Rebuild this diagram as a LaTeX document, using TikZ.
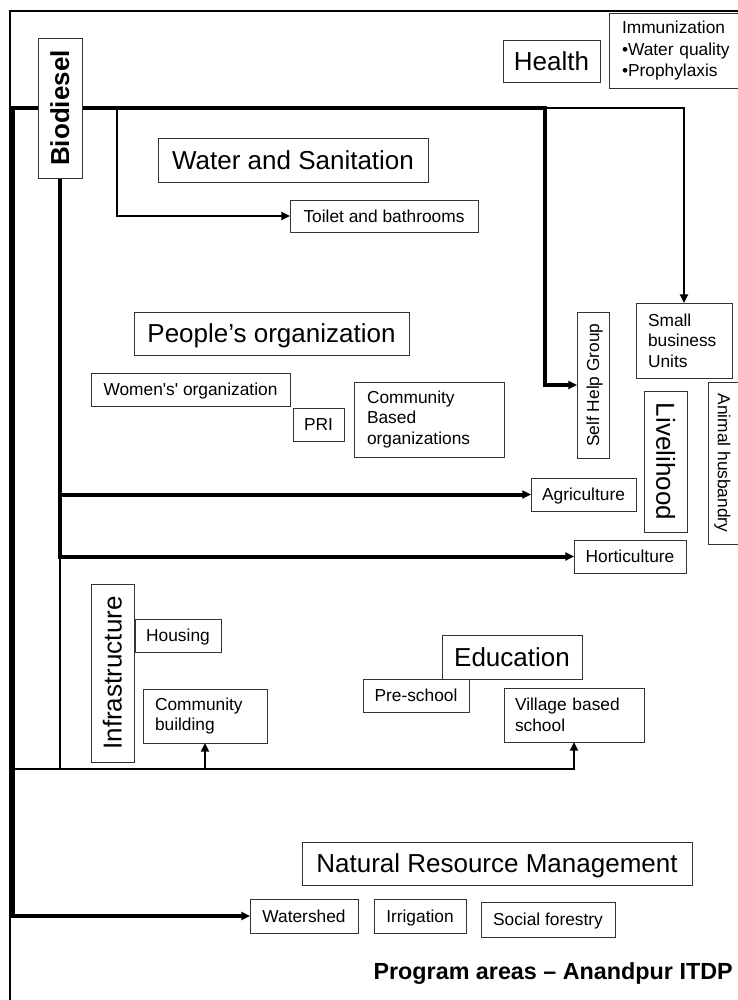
\documentclass[tikz,border=0pt]{standalone}
\usepackage{fontspec}
\usepackage{graphicx}
\setmainfont{Liberation Sans}
\usetikzlibrary{arrows.meta,backgrounds}

% rotated label with a fixed line height, so it is centred like upright text
\newcommand\turnedtext[2]{\rotatebox{#1}{\smash{#2}\rule[-0.2em]{0pt}{1.1em}}}

\begin{document}
\begin{tikzpicture}[x=0.75pt,y=-0.75pt,
  box/.style={draw=black!80, line width=0.75pt, fill=white, inner sep=0pt, outer sep=0pt},
  bigr/.style={font=\fontsize{19.5}{23}\selectfont},
  smallr/.style={font=\fontsize{13}{15.5}\selectfont},
  big/.style={bigr, text height=17.55pt, text depth=3.9pt},
  small/.style={smallr, text height=11.7pt, text depth=2.6pt},
  sz/.style n args={2}{minimum width=#1, minimum height=#2},
  leftbox/.style n args={3}{smallr, text width=#1, inner xsep=#2, minimum height=#3, align=left},
  frameline/.style={line width=1.5pt},
  heavy/.style={line width=3pt, line join=miter},
  medium/.style={line width=2pt},
  light/.style={line width=1.3pt},
  tip/.style={-{Triangle[length=6.5pt,width=6pt]}},
  twotip/.style={{Triangle[length=6.5pt,width=6pt]}-{Triangle[length=6.5pt,width=6pt]}},
]
\useasboundingbox (0,0) rectangle (738,1000);
\clip (0,0) rectangle (738,1000);

% program areas
\node[box, bigr, sz={33pt}{105pt}] (bio) at (60,108) {\turnedtext{90}{\bfseries Biodiesel}};
\node[box, big, sz={72.75pt}{31.5pt}] (health) at (551.5,61) {Health};
\node[box, leftbox={82.5pt}{9.75pt}{56.25pt}] (immun) at (677,50.5)
  {\vspace{1.5pt}Immunization\\\textbullet Water quality\\\textbullet Prophylaxis};
\node[box, big, sz={202.5pt}{33pt}] (water) at (293,160) {Water and Sanitation};
\node[box, small, sz={141pt}{24pt}] (toilet) at (384,216) {Toilet and bathrooms};
\node[box, big, sz={206.25pt}{32.25pt}] (people) at (271.5,333.5) {People’s organization};
\node[box, small, sz={149.25pt}{24.75pt}] (women) at (190.5,389.5) {Women\textquotesingle s\textquotesingle{} organization};
\node[box, small, sz={38.25pt}{24.75pt}] (pri) at (318.5,424.5) {PRI};
\node[box, leftbox={93pt}{9.75pt}{56.25pt}] (cbo) at (429,419.5) {Community\\Based\\organizations};
\node[box, smallr, sz={24pt}{109.5pt}] (shg) at (593,385) {\turnedtext{90}{Self Help Group}};
\node[box, leftbox={54pt}{9pt}{56.25pt}] (sbu) at (684,340.5) {Small\\business\\Units};
\node[box, bigr, sz={32.25pt}{105.75pt}] (live) at (665.5,461.5) {\turnedtext{-90}{Livelihood}};
\node[box, smallr, sz={24pt}{121.5pt}] (animal) at (724,463) {\turnedtext{-90}{Animal husbandry}};
\node[box, small, sz={78.75pt}{24.75pt}] (agri) at (583.5,494.5) {Agriculture};
\node[box, small, sz={84pt}{24.75pt}] (horti) at (630,556.5) {Horticulture};
\node[box, bigr, sz={32.25pt}{133.5pt}] (infra) at (112.5,673) {\turnedtext{90}{Infrastructure}};
\node[box, small, sz={64.5pt}{24.75pt}] (housing) at (178,635.5) {Housing};
\node[box, leftbox={75pt}{9pt}{40.5pt}] (comm) at (205,716) {Community\\building};
\node[box, small, sz={79.5pt}{24.75pt}] (pre) at (416,695.5) {Pre-school};
\node[box, big, sz={105pt}{33pt}] (edu) at (512,657) {Education};
\node[box, leftbox={88.5pt}{8.25pt}{40.5pt}] (vbs) at (574,715) {Village based\\school};
\node[box, big, sz={292.5pt}{32.25pt}] (nrm) at (497,863.5) {Natural Resource Management};
\node[box, small, sz={81pt}{25.5pt}] (wshed) at (304,916) {Watershed};
\node[box, small, sz={69pt}{25.5pt}] (irr) at (420,916) {Irrigation};
\node[box, small, sz={100.5pt}{26.25pt}] (social) at (548,919.5) {Social forestry};
\node[font=\bfseries\fontsize{17.5}{21}\selectfont, anchor=east, inner sep=0pt] (title) at (733,974)
  {Program areas \textendash{} Anandpur ITDP};

% junction points of the distribution lines
\coordinate (corner) at (13,108);
\coordinate (foot) at (13,916);
\coordinate (sdrop) at (545,108);
\coordinate (tbr) at (117,108);
\coordinate (lowbus) at (13,769);

\begin{scope}[on background layer]
  % page frame
  \draw[frameline] (10,1000) -- (10,11) -- (738,11);
  % main trunk: watershed -> left side -> top -> self help group
  \draw[heavy, twotip] (wshed.west) -- (foot) -- (corner) -- (sdrop) |- (shg.west);
  \draw[medium, tip] (sdrop) -| (sbu.north);
  \draw[medium, tip] (tbr) |- (toilet.west);
  % biodiesel feeder
  \draw[heavy, tip] (bio.south) |- (agri.west);
  \draw[heavy, tip] (bio.south) |- (horti.west);
  \draw[medium, tip] (bio.south) -- (bio.south |- lowbus) -| (comm.south);
  % lower bus to schools
  \draw[light, tip] (lowbus) -| (vbs.south);
\end{scope}
\end{tikzpicture}
\end{document}
